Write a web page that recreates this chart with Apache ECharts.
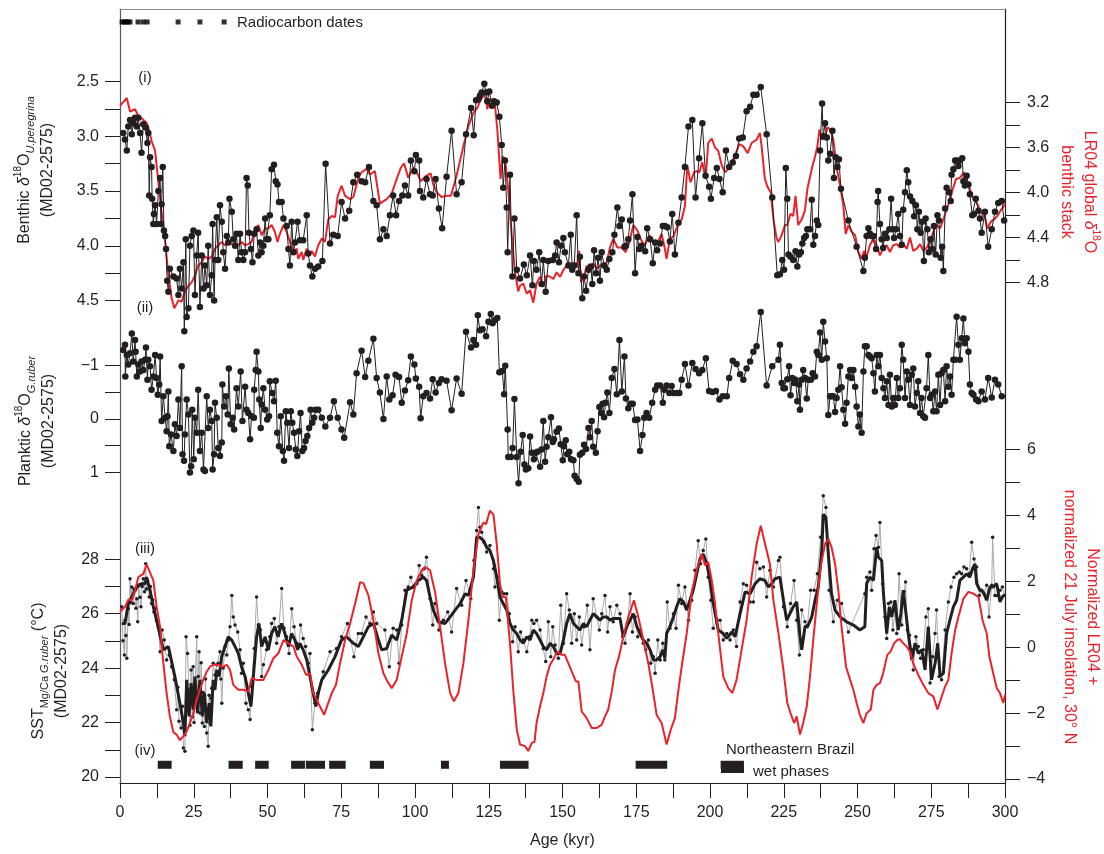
<!DOCTYPE html>
<html>
<head>
<meta charset="utf-8">
<script src="https://cdn.jsdelivr.net/npm/echarts@6/dist/echarts.min.js"></script>
<style>html,body{margin:0;padding:0;background:#fff}#c{width:1104px;height:854px}</style>
</head>
<body>
<div id="c"></div>
<script>
// ---------------- DATA ----------------
// (i) Benthic d18O U.peregrina, MD02-2575 [age kyr, permil]
const benthic = [[1.1,2.97],[1.7,3.03],[2.3,3.13],[2.8,2.91],[3.4,2.85],[4.0,2.98],[4.5,2.88],[5.1,2.83],[5.7,2.91],[6.2,2.83],[6.8,2.97],[7.3,3.15],[7.9,2.89],[8.7,2.92],[9.3,3.06],[9.6,2.97],[9.9,3.54],[10.2,3.19],[10.7,3.28],[10.9,3.57],[11.3,3.80],[11.5,3.71],[11.9,3.63],[12.4,3.80],[13.0,3.50],[13.6,3.38],[13.9,3.80],[14.1,3.62],[14.5,3.28],[14.9,3.86],[15.3,3.91],[15.6,4.03],[16.0,4.32],[16.4,4.42],[16.9,4.21],[18.1,4.28],[19.2,4.30],[19.8,4.45],[20.3,4.21],[20.9,4.39],[21.5,4.15],[21.8,4.78],[22.3,3.94],[22.6,4.65],[23.2,4.57],[23.7,4.0],[24.3,3.91],[24.9,3.86],[25.4,4.45],[26.0,4.09],[26.5,3.88],[27.1,4.56],[27.7,4.09],[28.3,4.39],[28.8,4.18],[29.4,4.36],[29.9,4.0],[30.5,4.45],[31.1,4.27],[31.4,3.80],[31.9,4.50],[32.2,4.13],[32.8,3.74],[33.3,4.13],[33.9,3.63],[34.5,3.78],[35.0,4.06],[35.6,4.21],[36.2,3.91],[36.7,3.97],[37.1,3.57],[37.9,3.69],[38.4,3.94],[39.0,4.0],[39.5,3.89],[40.1,4.13],[40.7,3.89],[41.2,4.06],[41.8,4.13],[42.4,4.06],[42.9,3.38],[43.3,3.45],[43.7,3.88],[44.4,4.03],[44.9,4.15],[45.5,3.89],[46.3,3.85],[46.9,4.09],[47.5,3.97],[48.0,4.06],[48.6,4.0],[49.2,3.75],[49.7,3.94],[50.3,3.94],[50.8,3.72],[51.4,3.30],[52.2,3.26],[52.8,3.41],[53.4,3.44],[53.9,3.60],[54.8,3.60],[55.4,3.75],[56.5,3.82],[57.1,4.03],[57.6,4.18],[58.2,3.78],[58.8,4.06],[59.3,3.97],[60.2,3.78],[61.0,3.95],[62.1,3.95],[63.3,3.72],[63.8,4.07],[64.4,4.18],[65.2,4.28],[66.1,4.21],[67.2,4.19],[68.6,4.14],[69.7,3.25],[71.2,3.98],[72.3,3.90],[73.8,3.91],[75.1,3.60],[76.3,3.75],[77.7,3.68],[79.1,3.42],[80.4,3.35],[81.9,3.41],[83.1,3.42],[84.4,3.28],[85.9,3.59],[87.0,3.63],[88.1,3.94],[89.3,3.85],[90.4,3.91],[91.5,3.72],[92.6,3.54],[93.6,3.72],[94.6,3.59],[95.7,3.54],[96.6,3.45],[97.7,3.54],[98.6,3.22],[99.8,3.32],[100.3,3.17],[101.4,3.22],[101.7,3.50],[102.8,3.56],[103.9,3.39],[105.1,3.53],[106.0,3.54],[107.0,3.39],[108.1,3.66],[109.2,3.84],[110.7,3.37],[112.4,2.95],[114.1,3.53],[115.8,3.42],[117.3,2.98],[119.0,2.74],[119.9,2.99],[120.7,2.67],[121.5,2.66],[122.0,2.63],[122.6,2.60],[123.5,2.52],[124.1,2.60],[124.5,2.68],[125.2,2.59],[126.1,2.72],[126.8,2.68],[127.7,2.69],[128.6,2.82],[129.4,3.08],[129.9,3.47],[130.5,3.22],[131.1,3.65],[131.4,4.06],[132.2,3.35],[133.0,4.28],[133.7,3.75],[134.5,4.22],[135.6,4.30],[136.9,4.17],[137.9,4.27],[139.0,4.09],[139.8,4.36],[140.3,4.14],[141.2,4.22],[142.1,4.06],[142.9,4.35],[143.5,4.13],[144.3,4.42],[145.2,4.14],[146.7,4.13],[147.5,4.09],[148.0,3.97],[148.8,4.15],[149.5,4.0],[150.3,3.93],[150.8,4.06],[152.0,4.18],[152.8,3.90],[153.3,4.22],[154.0,4.18],[154.8,3.72],[155.4,4.25],[155.9,4.10],[156.7,4.48],[157.3,4.28],[158.0,4.41],[158.8,4.22],[159.6,4.19],[160.1,4.35],[160.7,4.04],[161.4,4.25],[162.1,4.11],[162.7,4.32],[163.3,4.06],[164.1,4.18],[165.0,4.22],[165.9,4.12],[166.9,4.06],[167.6,3.90],[168.6,3.65],[169.3,3.82],[170.1,3.76],[171.0,4.01],[171.5,4.0],[172.3,3.94],[172.9,3.77],[173.7,3.53],[174.6,4.25],[175.4,3.92],[176.0,4.03],[176.8,4.0],[178.0,4.05],[178.7,3.84],[179.7,3.94],[180.6,4.16],[181.4,3.97],[182.1,4.04],[183.1,3.98],[184.0,3.82],[184.7,3.82],[185.5,3.83],[186.4,3.96],[187.2,3.71],[188.1,4.08],[189.3,3.79],[190.4,3.56],[191.5,3.28],[192.7,2.91],[194.0,2.85],[195.1,3.56],[196.3,3.20],[197.4,2.88],[198.5,3.36],[199.7,3.46],[200.3,3.57],[201.4,3.38],[202.3,3.29],[203.2,3.39],[204.3,3.51],[205.4,3.13],[206.5,3.28],[207.7,3.24],[208.8,3.18],[209.9,3.02],[211.1,3.01],[212.4,2.77],[213.6,2.73],[214.7,2.62],[215.8,2.62],[217.2,2.55],[219.2,2.98],[221.1,3.56],[222.8,4.27],[223.7,4.26],[224.5,4.13],[225.1,4.22],[225.7,3.29],[226.2,3.57],[226.6,4.08],[227.3,4.10],[228.2,4.13],[229.0,4.05],[229.6,4.19],[230.2,4.08],[230.8,4.06],[231.3,3.98],[231.9,3.93],[232.5,3.91],[233.0,3.85],[233.9,3.85],[234.5,3.58],[235.0,3.99],[235.6,3.91],[236.2,3.77],[236.7,3.81],[237.3,3.13],[238.0,2.70],[238.4,3.0],[239.0,2.88],[239.6,3.01],[240.1,3.22],[240.7,3.16],[241.5,2.95],[242.0,3.38],[242.6,3.19],[243.2,3.28],[243.7,3.21],[244.4,3.48],[246.9,3.77],[249.7,4.01],[252.0,4.23],[252.5,4.11],[253.1,3.91],[253.7,3.84],[254.2,3.89],[254.8,3.91],[255.4,3.91],[256.3,4.03],[256.8,3.60],[257.0,3.50],[257.6,3.80],[258.2,3.94],[258.7,4.02],[259.3,3.89],[259.9,3.93],[260.8,3.85],[261.4,3.57],[261.9,3.85],[262.4,3.93],[263.1,3.85],[263.8,3.71],[264.4,3.91],[265.0,3.99],[265.5,3.67],[266.1,3.51],[266.7,3.31],[267.2,3.42],[267.8,3.55],[268.6,3.59],[269.2,3.73],[269.8,3.63],[270.3,3.85],[270.8,3.69],[271.4,3.88],[271.9,3.78],[272.5,4.14],[273.1,3.75],[273.7,3.85],[274.2,4.06],[274.8,3.94],[275.4,4.03],[275.9,3.82],[276.5,4.08],[277.1,3.72],[277.6,3.77],[278.2,4.11],[278.7,4.01],[279.1,4.23],[279.7,3.66],[280.2,3.47],[281.0,3.51],[281.6,3.59],[281.9,3.35],[282.5,3.30],[283.1,3.22],[283.6,3.22],[284.2,3.27],[284.7,3.22],[285.5,3.20],[285.9,3.41],[286.4,3.45],[287.0,3.36],[287.6,3.44],[288.1,3.53],[288.9,3.72],[289.5,3.71],[290.1,3.57],[291.0,3.68],[291.5,3.75],[292.1,3.88],[293.2,3.69],[294.3,4.01],[295.5,3.85],[296.6,3.69],[297.7,3.61],[298.9,3.59],[299.7,3.77]];

// (i) LR04 global benthic d18O stack [age kyr, permil]
const lr04 = [[0,3.23],[0.6,3.22],[2.3,3.16],[3.4,3.28],[5.1,3.26],[6.2,3.32],[7.3,3.34],[9.0,3.38],[9.6,3.42],[10.7,3.54],[11.9,3.63],[13.0,3.91],[14.1,4.18],[15.3,4.44],[16.4,4.73],[17.5,4.94],[18.4,5.03],[19.8,4.96],[20.9,4.97],[22.0,4.88],[23.2,4.83],[24.3,4.80],[25.4,4.74],[26.5,4.65],[27.7,4.62],[28.8,4.57],[29.9,4.59],[31.1,4.57],[32.2,4.50],[33.3,4.47],[34.5,4.44],[35.6,4.47],[36.7,4.44],[37.9,4.46],[39.0,4.47],[40.1,4.47],[41.2,4.44],[42.4,4.47],[43.5,4.46],[44.6,4.44],[45.2,4.38],[45.8,4.33],[46.9,4.29],[48.0,4.38],[49.2,4.32],[50.3,4.32],[51.4,4.29],[52.5,4.35],[53.4,4.44],[54.2,4.37],[55.4,4.29],[56.5,4.35],[57.6,4.44],[58.8,4.53],[59.9,4.50],[60.4,4.59],[61.6,4.53],[62.1,4.60],[63.3,4.50],[64.4,4.56],[65.0,4.52],[66.1,4.57],[67.2,4.47],[68.4,4.41],[69.5,4.44],[70.6,4.24],[71.8,4.21],[72.9,4.22],[73.8,4.03],[75.1,3.94],[76.3,4.03],[78.0,4.06],[79.1,4.04],[80.8,3.87],[81.9,3.82],[83.6,3.79],[84.7,3.84],[86.4,3.81],[88.1,4.10],[90.4,4.06],[92.1,4.01],[93.8,3.88],[95.2,3.78],[96.3,3.74],[97.7,3.87],[99.4,3.78],[100.6,3.82],[101.9,3.90],[103.9,3.85],[105.3,3.83],[106.2,3.93],[107.4,4.0],[109.0,4.04],[110.7,4.03],[112.2,4.03],[114.1,3.85],[116.4,3.59],[118.1,3.41],[119.8,3.29],[121.1,3.25],[122.0,3.19],[123.2,3.13],[124.1,3.17],[124.5,3.26],[125.2,3.17],[126.2,3.19],[127.1,3.22],[127.9,3.44],[128.5,3.68],[129.0,3.88],[129.7,3.68],[130.5,3.70],[131.6,3.97],[132.8,4.38],[133.9,4.71],[135.0,4.88],[135.6,4.83],[136.7,4.81],[137.9,4.90],[139.0,4.87],[140.1,4.98],[141.2,4.81],[142.4,4.75],[143.5,4.84],[144.6,4.74],[145.8,4.75],[146.9,4.77],[148.0,4.71],[149.2,4.75],[150.3,4.69],[151.4,4.65],[152.5,4.63],[153.7,4.63],[154.8,4.66],[155.6,4.52],[156.3,4.80],[157.3,4.75],[158.2,4.65],[159.3,4.71],[160.4,4.63],[161.6,4.68],[162.7,4.65],[163.8,4.65],[165.0,4.62],[166.1,4.49],[167.2,4.41],[168.6,4.49],[170.1,4.49],[171.4,4.53],[172.7,4.44],[174.0,4.29],[175.4,4.34],[176.8,4.43],[177.9,4.47],[179.4,4.38],[180.8,4.44],[182.5,4.43],[183.6,4.37],[184.4,4.46],[185.3,4.59],[186.4,4.41],[187.6,4.39],[189.1,4.29],[190.4,4.24],[191.5,4.12],[192.3,3.76],[193.4,3.91],[194.6,3.82],[195.5,3.81],[196.4,3.82],[197.4,3.73],[198.5,3.88],[199.4,3.56],[200.6,3.52],[201.7,3.60],[202.8,3.63],[204.0,3.76],[205.1,3.82],[206.2,3.79],[207.4,3.73],[208.5,3.67],[209.9,3.57],[211.3,3.59],[212.8,3.65],[214.1,3.56],[215.8,3.53],[216.9,3.47],[217.5,3.59],[218.6,3.88],[219.5,3.95],[220.6,4.0],[221.5,4.24],[222.6,4.41],[223.2,4.44],[224.3,4.38],[225.4,4.29],[226.2,4.29],[227.3,4.19],[228.2,4.21],[229.0,4.03],[229.9,4.29],[231.1,4.24],[232.2,4.16],[233.0,3.97],[234.5,3.79],[235.6,3.68],[236.4,3.59],[237.1,3.44],[237.9,3.53],[239.0,3.51],[239.8,3.42],[240.7,3.44],[241.8,3.53],[243.0,3.79],[244.1,3.94],[245.2,4.12],[246.0,4.37],[246.9,4.29],[248.0,4.35],[249.2,4.38],[250.3,4.53],[251.4,4.59],[252.2,4.52],[253.1,4.57],[254.2,4.47],[255.4,4.41],[256.5,4.47],[257.6,4.56],[258.7,4.50],[259.9,4.47],[261.0,4.53],[262.1,4.47],[263.3,4.46],[264.4,4.49],[265.5,4.46],[266.7,4.50],[267.8,4.40],[268.9,4.52],[270.1,4.50],[271.2,4.46],[272.3,4.52],[273.5,4.49],[274.6,4.43],[275.7,4.35],[276.8,4.29],[278.0,4.32],[279.1,4.24],[280.2,4.15],[281.4,4.06],[282.3,3.97],[283.4,3.88],[284.7,3.87],[286.1,3.82],[287.0,3.90],[288.1,3.97],[289.3,4.06],[290.6,4.10],[291.8,4.18],[293.2,4.22],[294.0,4.32],[295.2,4.26],[296.3,4.24],[297.4,4.21],[298.5,4.16],[299.4,4.13],[300,4.10]];

// (ii) Planktic d18O G.ruber, MD02-2575 [age kyr, permil]
const planktic = [[1.1,-1.28],[1.7,-1.38],[1.8,-0.79],[2.3,-1.19],[2.8,-1.01],[3.4,-1.22],[4.0,-1.59],[4.5,-1.07],[5.1,-1.47],[5.3,-1.25],[5.7,-0.79],[6.2,-1.01],[6.8,-0.88],[7.3,-1.07],[7.9,-0.91],[8.5,-1.10],[8.8,-1.33],[9.3,-0.73],[9.6,-1.10],[10.2,-0.98],[10.7,-0.54],[11.3,-0.79],[11.9,-1.19],[12.4,-0.76],[12.8,-0.45],[13.3,-0.64],[13.6,-1.16],[14.1,0.04],[14.7,-0.42],[15.3,-0.02],[15.8,0.23],[16.1,-0.05],[16.4,-0.51],[16.7,0.51],[17.3,0.29],[18.1,0.60],[18.6,0.10],[19.2,0.32],[19.8,-0.36],[20.3,0.17],[20.9,-0.98],[21.2,0.66],[21.7,0.78],[22.0,0.29],[22.6,-0.36],[23.2,-0.08],[23.7,1.0],[24.1,0.88],[24.5,-0.17],[25.0,0.75],[25.4,-0.02],[26.0,0.26],[26.5,-0.54],[27.1,0.60],[27.7,0.26],[28.3,0.94],[28.8,0.97],[29.4,-0.42],[29.9,0.17],[30.5,-0.17],[31.1,0.04],[31.4,0.94],[31.9,0.66],[32.2,-0.30],[32.8,-0.02],[33.3,0.54],[33.9,0.69],[34.5,0.44],[34.7,-0.64],[35.3,-0.23],[35.9,-0.42],[36.5,-0.08],[36.9,-0.94],[37.5,0.10],[38.2,-0.02],[38.7,0.20],[39.5,-0.57],[40.1,-0.23],[40.9,-0.88],[41.5,0.04],[42.4,-0.60],[42.9,-0.17],[43.5,-0.11],[44.1,0.38],[44.6,-0.05],[45.4,-0.02],[45.5,-0.54],[46.0,-0.91],[46.3,-1.25],[46.9,-0.88],[47.2,-0.36],[47.7,0.17],[48.0,-0.27],[48.6,-0.57],[49.2,-0.17],[49.9,0.01],[50.5,-0.05],[50.8,-0.70],[51.6,-0.48],[52.2,-0.33],[52.8,-0.71],[53.3,0.26],[53.9,0.51],[54.5,-0.05],[55.2,0.60],[55.6,0.78],[56.2,-0.14],[56.7,0.07],[57.3,0.54],[57.9,-0.14],[58.4,0.07],[59.0,0.26],[59.6,0.57],[60.1,0.69],[60.7,0.23],[61.2,-0.11],[61.8,0.60],[62.4,0.54],[62.9,0.41],[63.5,0.32],[64.1,0.17],[64.6,-0.17],[65.2,0.07],[65.8,-0.02],[66.3,-0.17],[67.2,-0.17],[68.4,-0.02],[69.6,0.14],[71.2,-0.02],[72.5,-0.33],[73.8,-0.02],[75.1,0.20],[76.0,0.35],[78.0,-0.31],[79.1,-0.08],[80.2,-0.85],[81.9,-1.27],[83.1,-0.78],[84.2,-1.08],[85.9,-1.49],[87.0,-0.76],[88.1,-0.49],[89.3,0.0],[90.4,-0.79],[91.3,-0.36],[92.4,-0.44],[93.4,-0.82],[94.6,-0.78],[95.5,-0.30],[96.6,-0.53],[97.7,-0.72],[98.6,-1.16],[99.8,-1.01],[100.3,-0.75],[101.4,-0.60],[101.9,-0.01],[102.8,-0.42],[103.9,-0.48],[105.1,-0.38],[106.0,-0.74],[107.0,-0.49],[108.1,-0.67],[109.0,-0.74],[110.7,-0.71],[112.4,-0.16],[114.1,-0.75],[115.8,-0.47],[117.3,-1.62],[119.0,-1.33],[119.8,-1.47],[120.7,-1.38],[121.3,-1.93],[122.0,-1.65],[122.9,-1.67],[124.1,-1.54],[124.9,-1.81],[125.7,-1.95],[126.3,-1.78],[127.1,-1.84],[127.9,-1.88],[128.6,-0.87],[129.6,-0.89],[130.2,-0.46],[130.6,-0.99],[131.4,0.20],[131.6,0.71],[132.5,0.71],[133.1,0.54],[133.7,-0.37],[134.5,0.71],[135.1,1.20],[135.8,0.61],[136.5,0.30],[137.1,0.85],[137.6,0.94],[138.4,0.92],[139.0,0.33],[139.6,0.63],[140.3,0.75],[140.9,0.63],[141.5,0.61],[142.4,0.89],[142.9,0.57],[143.5,0.04],[144.1,0.80],[144.6,0.52],[145.2,0.34],[146.1,-0.03],[146.7,0.43],[147.1,0.38],[148.0,0.24],[148.8,0.18],[149.4,0.47],[150.1,0.77],[150.5,0.51],[151.1,0.40],[151.6,0.66],[152.3,0.61],[152.9,0.75],[153.7,0.77],[154.1,1.06],[154.8,1.12],[155.5,1.17],[155.9,0.67],[156.7,0.63],[157.3,0.48],[158.0,0.56],[158.8,0.17],[159.3,0.34],[159.9,0.04],[160.4,0.52],[161.3,0.63],[161.9,0.23],[162.5,-0.22],[163.1,-0.11],[163.6,-0.28],[164.1,-0.03],[164.6,-0.30],[165.2,-0.49],[165.9,-0.11],[166.7,-0.76],[167.6,-0.93],[168.4,-0.46],[169.3,-1.47],[170.1,-0.51],[171.0,-1.16],[171.5,-0.38],[172.3,-0.20],[173.1,-0.28],[173.8,-0.28],[174.6,0.02],[175.4,0.01],[176.3,0.60],[177.1,0.30],[177.7,-0.02],[178.5,-0.11],[179.4,-0.02],[180.4,-0.30],[181.4,-0.54],[182.1,-0.62],[183.1,-0.62],[184.0,-0.30],[184.5,-0.54],[185.3,-0.62],[186.2,-0.48],[187.0,-0.61],[187.6,-0.48],[188.9,-0.48],[189.6,-0.48],[190.4,-0.73],[191.5,-1.02],[192.7,-0.62],[194.0,-1.04],[195.1,-0.93],[196.3,-0.85],[197.4,-0.91],[198.6,-1.13],[199.7,-0.52],[200.8,-0.50],[202.0,-0.52],[203.2,-0.36],[204.3,-0.42],[205.7,-0.42],[206.5,-0.76],[207.7,-1.08],[209.0,-1.02],[210.2,-0.83],[211.3,-0.73],[212.4,-0.94],[213.6,-1.07],[214.7,-1.25],[215.8,-1.35],[217.2,-1.99],[219.2,-0.62],[221.1,-0.98],[223.2,-1.10],[223.7,-1.38],[224.3,-0.67],[224.9,-0.57],[225.4,-0.57],[226.2,-0.74],[226.8,-0.98],[227.3,-0.44],[227.9,-0.76],[228.5,-0.67],[229.0,-0.73],[229.6,-0.33],[230.2,-0.64],[230.5,-0.17],[231.1,-0.73],[231.6,-0.91],[232.2,-0.76],[232.8,-0.38],[233.3,-0.73],[234.2,-0.73],[234.8,-0.85],[235.6,-0.79],[236.2,-1.25],[236.7,-1.19],[237.3,-1.61],[237.9,-1.10],[238.4,-1.81],[239.0,-1.44],[239.6,-1.13],[240.1,-0.07],[240.7,-0.42],[241.2,-0.42],[241.8,-0.42],[242.4,-0.13],[242.9,-0.39],[243.5,-0.54],[244.1,-0.98],[244.6,-0.59],[245.2,-0.17],[245.8,0.09],[246.3,-0.30],[246.9,-0.79],[247.5,-0.91],[248.0,-0.76],[248.6,-0.91],[249.2,-0.60],[249.7,-0.23],[250.3,0.14],[250.8,-0.08],[251.4,0.26],[252.0,-0.88],[252.5,-1.35],[253.1,-1.35],[253.7,-1.19],[254.2,-1.16],[254.8,-1.13],[255.4,-0.85],[255.9,-0.51],[256.5,-1.19],[257.1,-0.98],[257.6,-1.19],[258.2,-0.76],[258.8,-0.57],[259.3,-0.39],[259.9,-0.70],[260.5,-0.26],[261.0,-0.82],[261.6,-0.23],[262.1,-0.39],[262.7,-0.26],[263.3,-0.76],[263.8,-0.39],[264.4,-0.57],[265.0,-1.38],[265.5,-1.10],[266.1,-0.39],[266.7,-0.88],[267.2,-0.73],[267.8,-0.26],[268.4,-0.82],[268.9,-0.94],[269.5,-0.23],[270.1,-0.48],[270.6,-0.70],[271.2,-0.11],[271.7,-0.39],[272.3,-0.05],[272.9,-0.02],[273.4,-0.57],[274.0,-1.19],[274.6,-0.39],[275.1,-0.45],[275.7,-0.14],[276.3,-0.51],[276.8,-0.14],[277.4,-0.82],[278.0,-0.26],[278.5,-0.85],[279.1,-0.91],[279.7,-0.33],[280.2,-0.98],[280.8,-0.60],[281.4,-0.79],[281.9,-0.45],[282.5,-1.10],[283.1,-1.10],[283.6,-1.90],[284.2,-1.38],[284.7,-1.10],[285.3,-1.50],[285.9,-1.87],[286.4,-1.41],[287.0,-1.50],[287.6,-1.25],[288.1,-0.64],[288.7,-0.48],[289.3,-0.45],[290.2,-0.36],[291.0,-0.33],[292.1,-0.51],[293.2,-0.36],[294.3,-0.76],[295.5,-0.40],[296.6,-0.73],[297.7,-0.64],[298.9,-0.42]];

// (iii) SST Mg/Ca G.ruber, MD02-2575, individual samples [age kyr, degC]
const sstRaw = [[0.6,26.25],[1.0,25.0],[1.5,24.48],[1.7,25.76],[2.0,25.2],[2.3,24.36],[2.8,26.18],[3.1,25.6],[3.4,27.28],[3.7,26.4],[4.0,26.98],[4.5,26.37],[4.8,26.9],[5.1,26.86],[5.4,26.2],[5.7,26.55],[6.0,25.70],[6.4,27.04],[6.8,26.6],[7.1,26.25],[7.5,27.0],[7.9,27.28],[8.3,26.8],[8.7,27.83],[9.0,26.9],[9.3,27.22],[9.9,26.61],[10.3,27.0],[10.7,26.37],[11.1,26.5],[11.5,26.06],[12.0,26.2],[12.4,25.76],[13.0,25.52],[13.6,24.60],[14.3,25.40],[15.0,25.03],[15.8,24.30],[16.7,24.48],[17.5,24.05],[18.4,23.57],[19.2,22.47],[19.6,23.3],[20.0,22.05],[20.7,21.80],[21.2,22.6],[21.5,21.07],[22.0,20.95],[22.4,25.15],[22.9,24.54],[23.4,23.20],[23.7,21.9],[24.1,23.93],[24.5,22.2],[24.8,24.05],[25.1,22.0],[25.4,23.20],[26.0,25.15],[26.3,22.4],[26.5,23.69],[26.8,24.6],[27.1,22.35],[27.5,24.2],[27.9,21.98],[28.2,23.1],[28.6,21.86],[29.0,23.6],[29.4,21.62],[29.9,21.13],[30.2,23.0],[30.5,21.98],[30.8,22.9],[31.1,23.26],[31.6,24.18],[32.2,23.75],[32.8,24.12],[33.3,24.18],[33.9,24.60],[34.2,23.6],[34.5,22.71],[35.0,24.0],[35.6,24.79],[36.2,24.48],[36.7,25.03],[37.3,25.52],[37.9,26.67],[38.4,25.88],[39.0,25.58],[39.9,25.33],[40.7,24.67],[41.2,23.81],[41.8,24.18],[42.7,22.71],[43.5,22.47],[44.1,22.11],[44.6,23.32],[45.5,24.72],[46.3,26.61],[46.9,25.58],[47.6,25.40],[48.0,23.69],[48.6,24.12],[49.7,24.67],[50.8,25.15],[51.4,25.64],[52.3,25.82],[53.1,24.91],[53.9,25.52],[54.8,26.92],[55.6,25.46],[56.5,25.15],[57.3,24.54],[58.2,26.18],[59.0,25.52],[59.9,24.91],[60.7,24.79],[61.2,25.58],[62.1,25.09],[62.9,24.79],[63.8,24.18],[64.4,24.54],[65.2,21.74],[66.1,22.71],[67.0,23.08],[68.9,23.87],[71.2,24.60],[73.4,24.72],[75.1,25.15],[77.1,25.64],[79.3,24.42],[80.8,25.27],[81.9,25.27],[83.4,25.88],[84.7,25.64],[85.9,26.06],[87.0,25.64],[89.8,25.40],[91.3,24.05],[92.6,25.46],[93.8,25.40],[94.6,24.18],[95.5,25.58],[96.6,26.86],[97.7,26.98],[98.6,27.34],[99.4,26.98],[100.6,27.10],[101.4,27.77],[102.3,27.40],[103.1,27.65],[103.9,28.07],[105.1,26.55],[106.0,25.58],[106.8,26.37],[108.1,25.40],[109.6,25.76],[111.1,26.06],[112.4,25.33],[114.1,26.92],[115.8,26.31],[117.3,27.22],[118.9,26.55],[120.0,27.95],[120.9,29.05],[121.5,29.90],[122.0,29.17],[122.6,28.99],[123.4,28.62],[124.3,28.26],[125.4,28.50],[126.6,27.65],[127.1,26.98],[127.9,27.34],[128.6,25.76],[129.4,26.80],[130.2,26.73],[131.1,26.73],[132.0,26.0],[133.1,24.97],[133.9,25.52],[135.0,24.60],[135.8,25.33],[136.7,25.03],[137.9,24.60],[138.8,25.15],[139.6,25.76],[140.3,25.64],[141.2,25.76],[142.4,25.40],[143.5,24.72],[144.3,24.24],[145.2,25.70],[146.0,24.42],[146.7,25.52],[147.5,24.85],[148.6,24.36],[149.4,26.31],[150.3,24.91],[151.4,26.73],[152.3,26.13],[153.1,24.91],[154.0,26.0],[154.8,25.03],[155.7,25.88],[156.5,24.85],[157.3,25.52],[158.4,26.31],[159.3,24.67],[160.4,26.55],[161.6,25.88],[162.5,25.40],[163.3,26.0],[164.4,26.67],[165.3,25.33],[166.1,26.25],[167.2,25.70],[168.4,26.31],[169.5,26.0],[170.4,25.15],[171.2,24.91],[172.0,25.64],[172.9,26.73],[173.7,25.33],[174.6,25.88],[175.5,25.15],[176.5,25.40],[177.4,24.91],[178.2,24.67],[179.1,25.03],[179.9,24.18],[180.8,24.42],[181.4,23.81],[182.3,25.03],[183.1,24.30],[184.0,24.91],[184.7,24.30],[185.5,26.43],[186.4,25.46],[187.6,26.0],[188.5,25.46],[189.3,27.04],[190.4,26.37],[191.5,26.98],[192.7,25.76],[193.8,26.49],[194.9,27.59],[196.0,28.68],[196.8,27.83],[197.7,28.32],[198.6,28.74],[199.4,27.34],[200.3,26.49],[201.1,25.46],[202.3,25.76],[203.4,25.76],[204.5,25.03],[205.7,25.27],[206.8,25.03],[207.9,25.40],[209.0,24.79],[210.2,26.43],[211.3,27.10],[212.4,27.04],[213.6,26.43],[214.7,26.43],[215.8,27.89],[216.9,27.65],[218.1,27.71],[219.2,26.61],[220.3,27.59],[221.5,26.98],[223.2,27.95],[223.7,28.07],[224.9,26.25],[226.2,25.52],[227.3,26.37],[228.5,27.22],[229.4,25.76],[230.3,24.48],[231.1,26.13],[232.2,25.70],[233.0,25.52],[234.1,26.86],[235.3,26.86],[236.4,27.46],[237.5,28.80],[238.4,30.33],[239.3,29.90],[240.4,26.86],[241.8,25.70],[243.2,26.49],[244.6,26.37],[246.9,25.33],[252.5,26.73],[253.1,27.34],[254.2,27.53],[254.8,26.86],[255.6,28.38],[256.3,28.87],[257.1,28.44],[257.6,29.35],[258.5,27.10],[259.3,25.88],[259.9,25.09],[260.5,26.37],[261.3,26.43],[262.0,25.40],[262.7,26.13],[263.3,25.27],[264.1,27.46],[265.0,25.58],[265.8,26.80],[266.3,27.16],[266.9,25.40],[267.6,25.21],[268.4,24.67],[268.9,23.93],[269.8,25.15],[270.6,24.79],[271.4,24.36],[272.3,24.67],[273.2,25.88],[274.0,26.18],[274.6,23.45],[275.5,24.42],[276.3,25.27],[276.8,26.13],[277.7,23.69],[278.5,23.57],[279.7,25.40],[280.8,26.43],[281.7,26.98],[282.7,27.34],[283.6,27.46],[284.5,27.53],[285.3,27.46],[286.1,27.71],[287.0,27.65],[287.9,27.46],[288.7,28.62],[289.5,28.01],[290.4,27.71],[291.3,26.67],[292.1,26.86],[292.9,26.73],[293.8,27.04],[294.6,25.88],[295.5,27.04],[295.8,28.80],[296.6,26.67],[297.4,26.67],[298.3,26.86],[299.1,26.98],[299.7,26.67]];

// (iii) SST smoothed record [age kyr, degC]
const sstSmooth = [[0.6,25.64],[1.7,25.64],[2.8,26.37],[4.0,26.61],[5.1,26.86],[6.2,27.04],[7.3,27.10],[8.5,27.10],[9.0,27.34],[10.2,26.86],[11.3,26.25],[12.4,25.76],[13.0,25.76],[14.7,24.67],[16.4,24.79],[18.6,23.69],[20.3,22.71],[21.5,21.98],[22.0,21.5],[22.6,23.57],[23.4,22.23],[24.1,23.45],[24.8,22.47],[25.4,23.69],[26.3,22.35],[27.1,23.57],[27.9,22.23],[28.6,23.08],[29.4,21.98],[30.2,22.71],[30.8,21.86],[31.6,23.57],[32.2,23.20],[32.8,23.93],[33.6,23.69],[34.5,24.42],[35.6,24.79],[36.7,25.15],[37.9,25.03],[39.0,24.79],[40.1,24.54],[41.2,24.05],[42.4,23.69],[43.5,23.08],[44.4,22.59],[45.2,23.69],[46.3,25.15],[47.1,25.64],[48.0,24.79],[49.2,25.15],[50.3,24.67],[51.4,25.27],[52.5,25.52],[53.6,25.15],[54.8,25.64],[55.9,25.27],[57.1,24.79],[58.2,25.27],[59.3,25.03],[60.2,24.67],[61.0,24.91],[62.1,24.67],[63.3,24.30],[64.4,23.69],[65.5,23.08],[66.4,22.59],[67.2,23.08],[68.4,23.57],[70.6,23.93],[72.9,24.42],[75.1,25.03],[76.8,25.15],[79.1,24.91],[80.8,24.79],[82.5,25.15],[84.2,25.52],[85.9,25.64],[87.6,25.03],[88.7,24.67],[90.4,24.72],[92.1,25.21],[93.8,25.03],[95.5,25.76],[97.2,26.86],[99.4,26.98],[101.1,27.22],[102.8,27.34],[103.9,27.22],[105.1,26.61],[106.2,26.13],[107.9,25.70],[110.2,25.64],[111.9,25.88],[113.6,26.13],[115.3,26.37],[117.0,26.73],[118.1,26.67],[119.8,27.34],[120.9,28.80],[122.0,28.80],[123.2,28.68],[124.3,28.44],[125.4,28.32],[126.6,27.95],[127.7,27.34],[128.8,26.61],[129.9,26.37],[131.1,26.13],[132.2,25.64],[133.3,25.40],[134.5,25.27],[135.6,25.03],[136.7,24.91],[137.9,25.15],[139.0,25.03],[140.1,25.40],[141.2,25.27],[142.4,25.03],[143.5,24.79],[144.6,24.67],[145.8,24.91],[146.9,24.79],[148.0,24.54],[149.2,24.54],[150.3,25.03],[151.4,25.64],[152.5,26.0],[153.7,25.64],[154.8,25.52],[155.9,25.40],[157.1,25.64],[158.2,25.52],[159.3,25.76],[160.4,26.0],[161.6,25.88],[162.7,25.76],[163.8,25.88],[165.0,25.88],[166.1,25.76],[167.2,25.82],[168.4,25.82],[169.5,25.82],[170.6,25.15],[171.8,25.52],[172.9,25.76],[174.0,26.0],[175.2,25.52],[176.3,25.27],[177.4,25.03],[178.5,24.91],[179.7,24.67],[180.8,24.30],[181.9,24.30],[183.1,24.42],[184.0,24.67],[184.7,24.36],[185.3,25.27],[186.4,25.52],[187.6,25.88],[188.7,26.25],[189.8,26.55],[191.0,26.43],[192.1,26.13],[193.2,26.49],[194.3,26.86],[195.5,27.46],[196.6,28.01],[197.7,28.19],[198.9,27.83],[200.0,27.22],[201.1,26.37],[202.8,25.40],[204.5,25.27],[205.7,25.09],[207.4,25.33],[208.5,25.15],[210.2,26.0],[211.9,26.80],[213.6,26.73],[215.3,27.10],[216.9,27.28],[218.6,27.22],[219.8,26.98],[220.9,27.10],[222.0,27.28],[223.7,27.34],[224.9,26.49],[226.0,25.76],[227.1,26.0],[228.2,26.25],[229.4,26.43],[230.5,25.15],[231.1,24.67],[232.2,25.52],[233.3,25.58],[234.5,25.88],[235.6,26.49],[236.7,26.98],[237.9,28.32],[238.4,29.65],[239.3,29.53],[240.1,28.19],[241.2,26.73],[242.4,26.13],[244.1,25.88],[246.3,25.70],[248.6,25.58],[250.8,25.40],[252.5,25.52],[253.1,27.10],[254.2,27.34],[255.4,27.22],[256.5,28.44],[257.1,28.07],[258.2,27.95],[258.8,26.73],[259.9,25.27],[260.8,26.25],[261.6,25.88],[262.7,26.49],[263.8,25.40],[264.7,26.0],[265.5,26.86],[266.3,26.13],[267.2,25.27],[268.4,24.30],[269.5,24.91],[270.6,24.54],[271.8,24.67],[272.9,23.93],[274.0,25.52],[275.1,23.57],[276.3,24.18],[277.2,24.91],[278.0,23.69],[279.1,23.81],[280.2,25.27],[281.6,25.88],[282.5,26.25],[283.6,26.49],[284.7,27.22],[285.9,27.34],[287.0,27.46],[288.1,27.34],[289.0,27.65],[289.8,27.83],[290.4,27.10],[291.5,26.86],[292.6,26.80],[293.8,26.49],[294.9,26.98],[296.0,26.98],[297.2,27.10],[298.3,26.43],[299.4,26.67]];

// (iii) Normalized LR04 + normalized 21 July insolation, 30N [age kyr, units]
const insolation = [[0,1.08],[1.7,1.23],[2.8,1.45],[4.0,1.43],[5.1,1.73],[6.2,2.13],[7.9,2.23],[9.0,2.52],[9.9,2.33],[11.3,2.03],[12.4,1.23],[13.6,0.62],[14.7,-0.49],[15.8,-1.39],[16.9,-2.10],[18.1,-2.58],[19.2,-2.65],[20.3,-2.82],[21.5,-2.70],[22.6,-2.55],[23.7,-2.30],[24.9,-2.0],[26.0,-1.59],[27.1,-1.29],[28.2,-0.99],[29.4,-0.74],[30.5,-0.59],[31.6,-0.53],[33.3,-0.53],[35.0,-0.59],[36.2,-0.53],[37.3,-0.69],[38.4,-1.14],[40.1,-1.29],[41.8,-1.29],[43.5,-1.34],[44.6,-0.94],[46.3,-0.99],[48.6,-0.99],[50.3,-0.69],[52.0,-0.33],[53.7,-0.18],[55.4,0.22],[57.1,0.12],[58.8,0.02],[59.9,-0.28],[61.6,-0.53],[63.1,-0.84],[64.4,-0.79],[65.5,-1.39],[67.2,-1.69],[69.2,-2.05],[70.6,-1.69],[71.8,-1.39],[73.2,-1.14],[74.6,-0.49],[76.3,0.22],[78.0,0.72],[79.7,1.33],[81.4,1.98],[82.5,1.95],[84.2,1.58],[85.9,0.82],[87.6,-0.18],[89.3,-0.79],[90.4,-0.99],[92.1,-1.24],[93.8,-0.99],[95.5,-0.28],[97.2,0.42],[98.9,1.43],[100.6,2.03],[102.3,2.34],[103.4,2.44],[105.1,2.34],[106.8,1.68],[108.5,0.62],[110.2,-0.49],[111.9,-1.39],[113.2,-1.64],[114.7,-1.39],[116.4,-0.49],[118.1,0.82],[119.8,2.34],[121.5,3.44],[123.2,3.79],[124.1,3.74],[125.4,4.15],[126.6,4.03],[127.7,3.14],[128.8,1.93],[129.7,1.53],[130.8,1.53],[132.2,0.12],[133.3,-1.29],[134.5,-2.50],[135.6,-2.95],[137.3,-3.0],[138.4,-3.15],[139.6,-2.90],[140.5,-2.88],[141.2,-2.30],[142.4,-1.79],[143.5,-1.39],[144.6,-0.89],[145.8,-0.53],[147.1,-0.33],[148.2,-0.13],[149.7,-0.23],[150.8,-0.23],[152.0,-0.49],[153.4,-0.79],[154.6,-1.04],[155.4,-1.04],[156.5,-1.95],[158.2,-2.15],[159.9,-2.45],[161.6,-2.45],[163.3,-2.35],[164.4,-2.10],[165.5,-1.89],[166.7,-1.34],[167.8,-0.69],[169.3,-0.23],[170.6,0.32],[172.3,0.92],[174.2,1.43],[175.7,0.92],[177.4,0.22],[179.1,-0.49],[180.6,-1.29],[181.9,-2.05],[183.6,-2.30],[185.3,-2.95],[186.7,-2.50],[188.1,-2.15],[189.3,-1.29],[190.4,-0.59],[192.1,0.42],[193.8,1.68],[195.5,2.34],[197.2,2.84],[198.3,2.49],[199.4,2.59],[200.6,2.03],[201.7,1.33],[202.8,0.42],[204.5,-0.89],[206.2,-1.24],[207.6,-1.39],[209.0,-0.99],[210.7,-0.08],[212.4,0.82],[214.1,2.13],[215.8,3.14],[217.2,3.69],[219.2,2.94],[220.3,2.53],[221.5,1.43],[223.2,0.42],[224.9,-0.69],[226.2,-1.69],[227.3,-2.0],[228.5,-2.30],[229.4,-2.10],[230.5,-2.65],[231.6,-2.30],[232.8,-1.79],[233.9,-0.89],[235.0,0.22],[236.2,1.33],[237.5,2.44],[239.0,3.14],[240.1,3.29],[241.2,3.04],[242.4,2.53],[243.5,1.73],[244.6,0.62],[246.1,-0.59],[247.5,-0.99],[248.6,-1.29],[249.7,-1.69],[250.8,-2.05],[252.0,-2.30],[253.1,-2.0],[254.5,-1.89],[255.4,-1.29],[256.5,-1.14],[257.6,-1.09],[258.7,-0.79],[260.1,-0.23],[261.2,-0.13],[262.4,0.12],[263.5,0.22],[264.4,0.25],[265.5,0.12],[266.7,0.02],[267.8,-0.13],[268.9,-0.49],[270.6,-0.84],[272.3,-1.14],[274.0,-1.39],[275.7,-1.49],[277.1,-1.89],[278.2,-1.59],[279.7,-1.19],[280.8,-0.99],[281.9,-0.18],[283.1,0.52],[284.2,0.92],[285.9,1.48],[287.6,1.68],[289.3,1.63],[291.0,1.53],[292.4,0.82],[293.8,0.42],[294.7,-0.28],[296.0,-0.79],[297.2,-1.24],[298.3,-1.39],[299.4,-1.69],[300,-1.44]];

// Radiocarbon dates (ages, kyr)
const radiocarbonAges = [0.7,1.4,2.0,2.7,3.4,6.1,7.8,9.2,19.7,27.1,35.3];
// (iv) Northeastern Brazil wet phases [start, end] kyr
const wetPhases = [[12.8,17.5],[36.8,41.6],[45.8,50.4],[58.0,62.7],[63.0,69.5],[70.9,76.5],[84.7,89.5],[108.8,111.5],[128.8,138.5],[174.8,185.5],[203.6,211.5]];

// Tick values
const xTicks = [0,12.5,25,37.5,50,62.5,75,87.5,100,112.5,125,137.5,150,162.5,175,187.5,200,212.5,225,237.5,250,262.5,275,287.5,300];
const xLabels = [0,25,50,75,100,125,150,175,200,225,250,275,300];
const benthicTicks = [2.5,2.75,3,3.25,3.5,3.75,4,4.25,4.5];
const benthicLabels = [2.5,3,3.5,4,4.5];
const plankticTicks = [-1,-0.5,0,0.5,1];
const plankticLabels = [-1,0,1];
const sstTicks = [20,21,22,23,24,25,26,27,28];
const sstLabels = [20,22,24,26,28];
const lr04Ticks = [3.2,3.4,3.6,3.8,4.0,4.2,4.4,4.6,4.8];
const lr04Labels = [3.2,3.6,4.0,4.4,4.8];
const normTicks = [-4,-3,-2,-1,0,1,2,3,4,5,6];
const normLabels = [-4,-2,0,2,4,6];

// ---------------- CHART ----------------
const INK = '#231f20', RED = '#e8232a';
const FF = "'Liberation Sans', Arial, Helvetica, sans-serif";
const RC_LEVEL = 1.955;    // row of radiocarbon markers, on benthic axis units
const WET_LEVEL = 20.45;   // row of wet-phase bars, on SST axis units
const byAge = a => a.slice().sort((p, q) => p[0] - q[0]);
const fmtNum = v => (v < 0 ? '\u2212' + Math.abs(v) : String(v));
const fmt1 = v => v.toFixed(1);

function yAx(o) {
  return Object.assign({
    type: 'value', splitLine: { show: false },
    axisLine: { show: false, onZero: false },
    axisTick: { show: true, length: 15, lineStyle: { color: INK, width: 1 } },
    axisLabel: { show: true, margin: 21, color: INK, fontSize: 16, fontFamily: FF }
  }, o);
}

const chart = echarts.init(document.getElementById('c'), null, { renderer: 'canvas' });
const txt = (x, y, text, extra) => ({ type: 'text', x, y, silent: true,
  style: Object.assign({ text, fill: INK, font: '15px ' + FF, align: 'center', verticalAlign: 'middle' }, extra || {}) });

function richStyles(color) {
  return {
    t: { fill: color, fontSize: 16, fontFamily: FF, lineHeight: 23 },
    d: { fill: color, fontSize: 16, fontFamily: FF, fontStyle: 'italic', lineHeight: 23 },
    sup: { fill: color, fontSize: 10, fontFamily: FF, verticalAlign: 'top', lineHeight: 12 },
    sub: { fill: color, fontSize: 11, fontFamily: FF, fontStyle: 'italic', verticalAlign: 'bottom', lineHeight: 12 },
    subn: { fill: color, fontSize: 11, fontFamily: FF, verticalAlign: 'bottom', lineHeight: 12 }
  };
}
const rtxt = (x, y, rot, text, color) => ({ type: 'text', x, y, rotation: rot, silent: true,
  style: { text, rich: richStyles(color), align: 'center', verticalAlign: 'middle', fill: color } });

const option = {
  animation: false,
  backgroundColor: '#fff',
  grid: { left: 120, right: 99, top: 9, bottom: 67, containLabel: false },
  xAxis: [{
    type: 'value', min: 0, max: 300, position: 'bottom',
    splitLine: { show: false },
    axisLine: { show: true, onZero: false, lineStyle: { color: INK, width: 1.2 } },
    axisTick: { show: true, length: 15, customValues: xTicks, lineStyle: { color: INK } },
    axisLabel: { show: true, customValues: xLabels, margin: 22, color: INK, fontSize: 16, fontFamily: FF },
    name: 'Age (kyr)', nameLocation: 'middle', nameGap: 50,
    nameTextStyle: { color: INK, fontSize: 16, fontFamily: FF }
  }, {
    type: 'value', min: 0, max: 300, position: 'top',
    splitLine: { show: false },
    axisLine: { show: true, onZero: false, lineStyle: { color: '#8a8c8e', width: 1.2 } },
    axisTick: { show: false }, axisLabel: { show: false }
  }],
  yAxis: [
    yAx({ position: 'left', inverse: true, min: 1.8364, max: 8.9091,
      axisLine: { show: true, onZero: false, lineStyle: { color: '#58595b', width: 1.2 } },
      axisTick: { show: true, length: 15, customValues: benthicTicks, lineStyle: { color: INK } },
      axisLabel: { customValues: benthicLabels, formatter: fmt1, margin: 21, color: INK, fontSize: 16, fontFamily: FF } }),
    yAx({ position: 'left', inverse: true, min: -7.6296, max: 6.7778,
      axisTick: { show: true, length: 15, customValues: plankticTicks, lineStyle: { color: INK } },
      axisLabel: { customValues: plankticLabels, formatter: fmtNum, margin: 21, color: INK, fontSize: 16, fontFamily: FF } }),
    yAx({ position: 'left', min: 19.781, max: 48.201,
      axisTick: { show: true, length: 15, customValues: sstTicks, lineStyle: { color: INK } },
      axisLabel: { customValues: sstLabels, formatter: fmtNum, margin: 21, color: INK, fontSize: 16, fontFamily: FF } }),
    yAx({ position: 'right', inverse: true, min: 2.3681, max: 9.2531,
      axisLine: { show: true, onZero: false, lineStyle: { color: INK, width: 1.2 } },
      axisTick: { show: true, length: 15, customValues: lr04Ticks, lineStyle: { color: INK } },
      axisLabel: { customValues: lr04Labels, formatter: fmt1, margin: 22, color: INK, fontSize: 16, fontFamily: FF } }),
    yAx({ position: 'right', min: -4.121, max: 19.384,
      axisTick: { show: true, length: 15, customValues: normTicks, lineStyle: { color: INK } },
      axisLabel: { customValues: normLabels, formatter: fmtNum, margin: 22, color: INK, fontSize: 16, fontFamily: FF } })
  ],
  series: [
    { name: 'LR04', type: 'line', xAxisIndex: 0, yAxisIndex: 3, data: byAge(lr04), symbol: 'none',
      lineStyle: { color: RED, width: 2 }, z: 2, silent: true },
    { name: 'Benthic', type: 'line', xAxisIndex: 0, yAxisIndex: 0, data: byAge(benthic),
      symbol: 'circle', symbolSize: 6.5, showAllSymbol: true,
      itemStyle: { color: INK }, lineStyle: { color: INK, width: 1 }, z: 3, silent: true },
    { name: 'Planktic', type: 'line', xAxisIndex: 0, yAxisIndex: 1, data: byAge(planktic),
      symbol: 'circle', symbolSize: 6.5, showAllSymbol: true,
      itemStyle: { color: INK }, lineStyle: { color: INK, width: 1 }, z: 3, silent: true },
    { name: 'SST raw', type: 'line', xAxisIndex: 0, yAxisIndex: 2, data: byAge(sstRaw),
      symbol: 'circle', symbolSize: 3.5, showAllSymbol: true,
      itemStyle: { color: INK }, lineStyle: { color: '#a7a9ac', width: 1 }, z: 2, silent: true },
    { name: 'SST smooth', type: 'line', xAxisIndex: 0, yAxisIndex: 2, data: byAge(sstSmooth), symbol: 'none',
      lineStyle: { color: INK, width: 3 }, z: 3, silent: true },
    { name: 'Insolation', type: 'line', xAxisIndex: 0, yAxisIndex: 4, data: byAge(insolation), symbol: 'none',
      lineStyle: { color: RED, width: 2 }, z: 4, silent: true },
    { name: 'Radiocarbon', type: 'scatter', xAxisIndex: 0, yAxisIndex: 0,
      data: radiocarbonAges.map(a => [a, RC_LEVEL]), symbol: 'rect', symbolSize: 5,
      itemStyle: { color: '#000' }, z: 5, silent: true },
    { name: 'Wet phases', type: 'custom', xAxisIndex: 0, yAxisIndex: 2,
      data: wetPhases.map(p => [p[0], p[1], WET_LEVEL]),
      encode: { x: [0, 1], y: 2 }, silent: true, z: 5,
      renderItem: function (params, api) {
        const s = api.coord([api.value(0), api.value(2)]);
        const e = api.coord([api.value(1), api.value(2)]);
        const h = 8;
        return { type: 'rect', shape: { x: s[0], y: s[1] - h / 2, width: e[0] - s[0], height: h },
          style: { fill: INK } };
      } }
  ],
  graphic: [
    txt(237, 23, 'Radiocarbon dates', { align: 'left' }),
    txt(145, 78, '(i)'),
    txt(145, 308, '(ii)'),
    txt(145, 549, '(iii)'),
    txt(145, 751, '(iv)'),
    txt(726, 750, 'Northeastern Brazil', { align: 'left' }),
    txt(753, 772, 'wet phases', { align: 'left' }),
    { type: 'rect', silent: true, shape: { x: 721, y: 765, width: 23, height: 8 }, style: { fill: INK } },
    rtxt(36, 170, Math.PI / 2, '{t|Benthic }{d|\u03b4}{sup|18}{t|O}{sub|U.peregrina}\n{t|(MD02-2575)}', INK),
    rtxt(37, 421, Math.PI / 2, '{t|Planktic }{d|\u03b4}{sup|18}{t|O}{sub|G.ruber}\n{t|(MD02-2575)}', INK),
    rtxt(50, 671, Math.PI / 2, '{t|SST}{subn|Mg/Ca }{sub|G.ruber}{t| (\u00b0C)}\n{t|(MD02-2575)}', INK),
    rtxt(1078, 192, -Math.PI / 2, '{t|LR04 global }{d|\u03b4}{sup|18}{t|O}\n{t|benthic stack}', RED),
    rtxt(1081, 617, -Math.PI / 2, '{t|Normalized LR04 +}\n{t|normalized 21 July insolation, 30\u00b0 N}', RED)
  ]
};
chart.setOption(option);
</script>
</body>
</html>
